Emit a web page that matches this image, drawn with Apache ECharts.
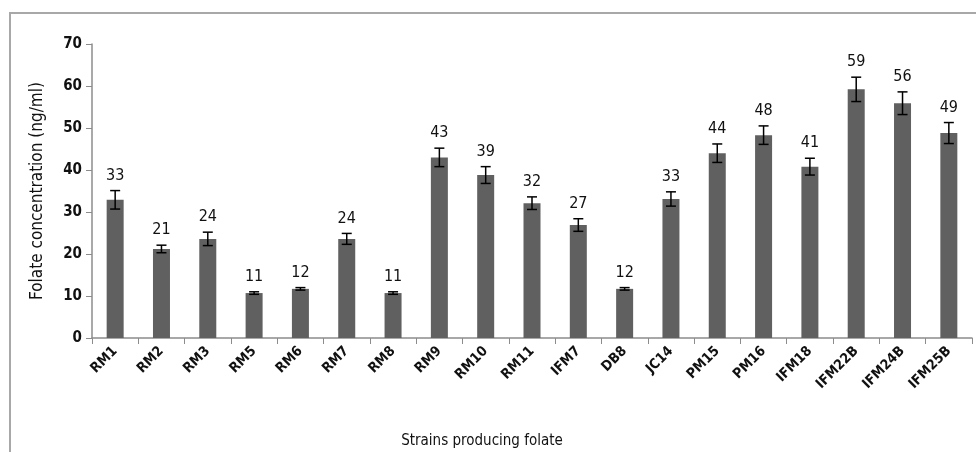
<!DOCTYPE html>
<html>
<head>
<meta charset="utf-8">
<script src="https://cdn.jsdelivr.net/npm/echarts@6/dist/echarts.min.js"></script>
<style>
  html, body { margin: 0; padding: 0; background: #fff; }
  #main { width: 976px; height: 452px; }
</style>
</head>
<body>
<div id="main"></div>
<script>
var strains = ['RM1', 'RM2', 'RM3', 'RM5', 'RM6', 'RM7', 'RM8', 'RM9', 'RM10', 'RM11',
               'IFM7', 'DB8', 'JC14', 'PM15', 'PM16', 'IFM18', 'IFM22B', 'IFM24B', 'IFM25B'];
var folate = [32.9, 21.2, 23.6, 10.7, 11.7, 23.6, 10.7, 43.0, 38.8, 32.1,
              26.9, 11.7, 33.1, 44.0, 48.3, 40.8, 59.2, 55.9, 48.8];
var errors = [2.2, 0.9, 1.6, 0.3, 0.3, 1.3, 0.3, 2.2, 2.0, 1.5,
              1.5, 0.3, 1.7, 2.2, 2.2, 2.0, 2.9, 2.7, 2.5];
var labels = ['33', '21', '24', '11', '12', '24', '11', '43', '39', '32',
              '27', '12', '33', '44', '48', '41', '59', '56', '49'];
var yTicks = [0, 10, 20, 30, 40, 50, 60, 70];

var font = "'Liberation Sans Narrow', 'DejaVu Sans Condensed', sans-serif";

var errData = strains.map(function (s, i) {
    return [i, folate[i] - errors[i], folate[i] + errors[i], labels[i]];
});

var chart = echarts.init(document.getElementById('main'));
chart.setOption({
    animation: false,
    graphic: [{
        type: 'rect',
        shape: { x: 10, y: 13, width: 975, height: 450 },
        style: { fill: 'none', stroke: '#a8a8a8', lineWidth: 2 }
    }],
    grid: { left: 92, right: 4, top: 44, bottom: 114, outerBoundsMode: 'none', containLabel: false },
    xAxis: {
        type: 'category',
        data: strains,
        name: 'Strains producing folate',
        nameLocation: 'middle',
        nameGap: 96,
        nameTextStyle: { fontFamily: font, fontSize: 15, color: '#111', padding: [0, 100, 0, 0] },
        axisLine: { lineStyle: { color: '#8c8c8c', width: 1.5 } },
        axisTick: { show: true, length: 6, lineStyle: { color: '#8c8c8c' } },
        axisLabel: {
            rotate: 45, fontFamily: font, fontSize: 14, fontWeight: 'bold',
            color: '#111', margin: 11, interval: 0
        }
    },
    yAxis: {
        type: 'value',
        min: yTicks[0], max: yTicks[yTicks.length - 1], interval: 10,
        name: 'Folate concentration (ng/ml)',
        nameLocation: 'middle',
        nameGap: 46,
        nameTextStyle: { fontFamily: font, fontSize: 17, color: '#111' },
        axisLine: { show: true, lineStyle: { color: '#8c8c8c', width: 1.5 } },
        axisTick: { show: true, length: 6, lineStyle: { color: '#8c8c8c' } },
        splitLine: { show: false },
        axisLabel: { fontFamily: font, fontSize: 15, fontWeight: 'bold', color: '#111', margin: 10 }
    },
    series: [{
        type: 'bar',
        data: folate,
        barWidth: 17,
        itemStyle: { color: '#606060' }
    }, {
        type: 'custom',
        data: errData,
        z: 10,
        renderItem: function (params, api) {
            var x = api.value(0);
            var lo = api.coord([x, api.value(1)]);
            var hi = api.coord([x, api.value(2)]);
            var half = 5;
            var st = { stroke: '#000', lineWidth: 1.5 };
            return {
                type: 'group',
                children: [
                    { type: 'line', shape: { x1: hi[0], y1: hi[1], x2: lo[0], y2: lo[1] }, style: st },
                    { type: 'line', shape: { x1: hi[0] - half, y1: hi[1], x2: hi[0] + half, y2: hi[1] }, style: st },
                    { type: 'line', shape: { x1: lo[0] - half, y1: lo[1], x2: lo[0] + half, y2: lo[1] }, style: st },
                    {
                        type: 'text',
                        style: {
                            x: hi[0], y: hi[1] - 7,
                            text: api.value(3),
                            align: 'center', verticalAlign: 'bottom',
                            fontFamily: font, fontSize: 16, fill: '#111'
                        }
                    }
                ]
            };
        }
    }]
});
</script>
</body>
</html>
